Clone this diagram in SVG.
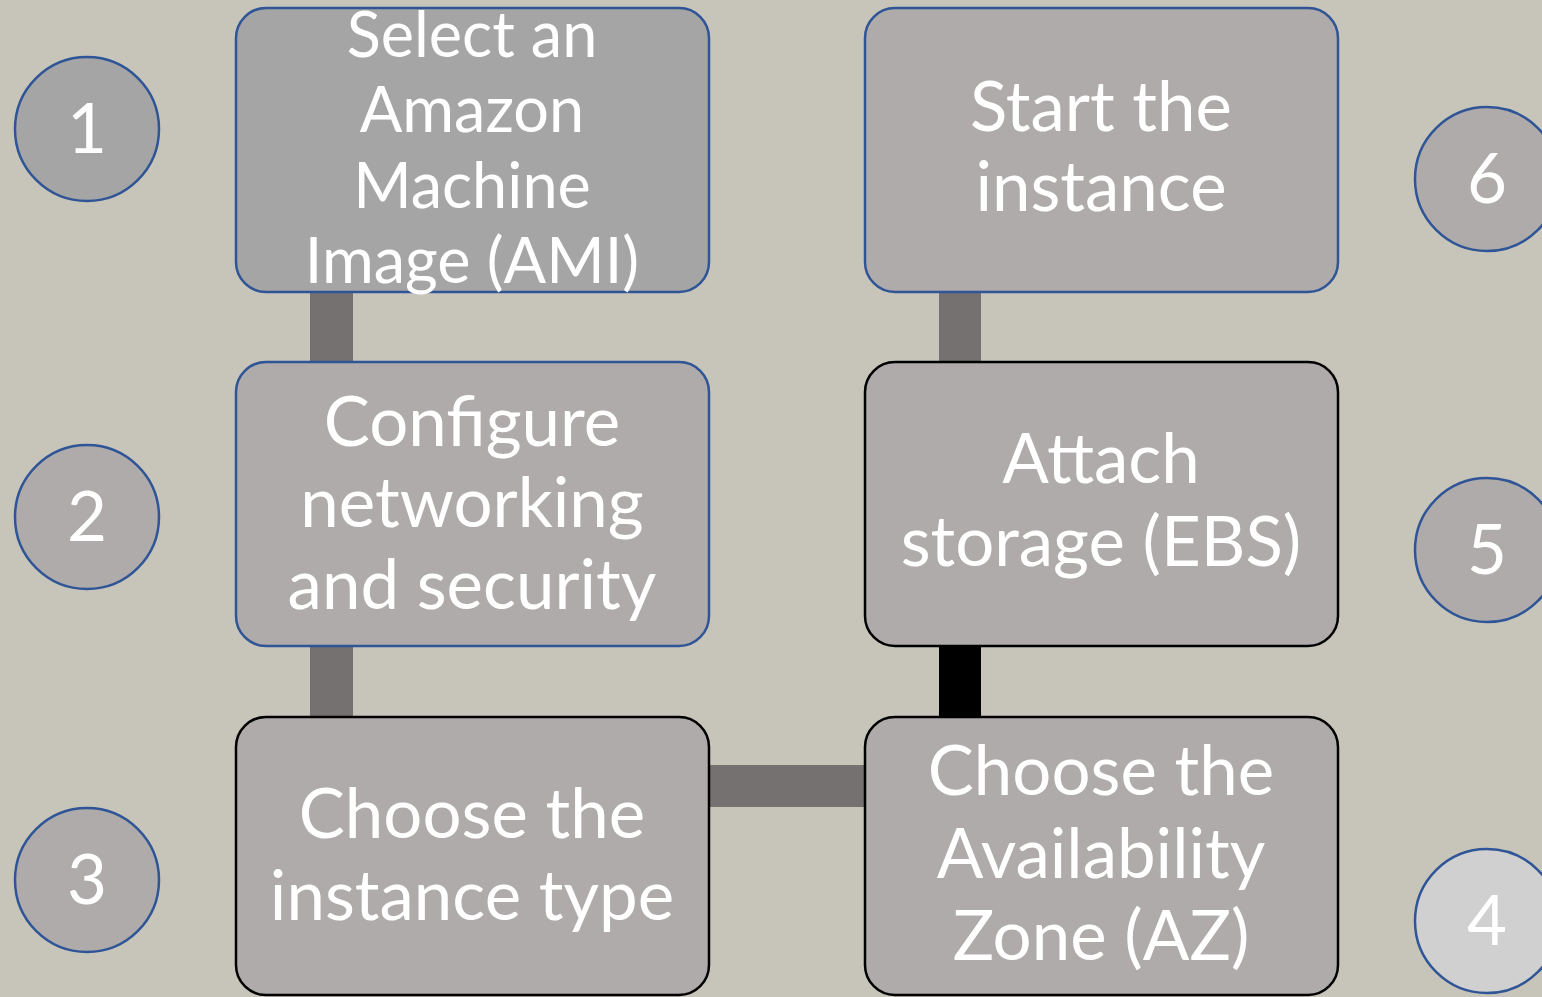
<svg xmlns="http://www.w3.org/2000/svg" width="1542" height="997" viewBox="0 0 1542 997">
<style>
.bg{fill:#C7C5BA}
.box{fill:#AEABAA;stroke-width:2.5}
.blue{stroke:#2F5597}
.black{stroke:#000000}
.first{fill:#A5A5A5}
.conn{fill:#767171}
.connk{fill:#000000}
.t{font-family:Lato,"Open Sans","Liberation Sans",sans-serif;fill:#FFFFFF;text-anchor:middle;font-size:69px}
.ts{font-size:63px}
.num{fill:#AEABAA;stroke:#2F5597;stroke-width:2.5}
</style>
<rect class="bg" x="0" y="0" width="1542" height="997"/>
<g id="connectors">
<rect class="conn" x="310" y="292" width="43" height="70"/>
<rect class="conn" x="310" y="646" width="43" height="71"/>
<rect class="conn" x="709" y="765" width="156" height="42"/>
<rect class="connk" x="939" y="646" width="42" height="71"/>
<rect class="conn" x="939" y="292" width="42" height="70"/>
</g>
<g id="step1">
<rect class="box first blue" x="236" y="8" width="473" height="284" rx="30"/>
<text class="t ts" x="472" y="57">Select an</text>
<text class="t ts" x="472" y="132">Amazon</text>
<text class="t ts" x="472" y="208">Machine</text>
<text class="t ts" x="472" y="283">Image (AMI)</text>
</g>
<g id="step2">
<rect class="box blue" x="236" y="362" width="473" height="284" rx="30"/>
<text class="t" x="472" y="446">Configure</text>
<text class="t" x="472" y="527">networking</text>
<text class="t" x="472" y="609">and security</text>
</g>
<g id="step3">
<rect class="box black" x="236" y="717" width="473" height="278" rx="30"/>
<text class="t" x="472" y="838">Choose the</text>
<text class="t" x="472" y="920">instance type</text>
</g>
<g id="step4">
<rect class="box black" x="865" y="717" width="473" height="278" rx="30"/>
<text class="t" x="1101" y="795">Choose the</text>
<text class="t" x="1101" y="878">Availability</text>
<text class="t" x="1101" y="960">Zone (AZ)</text>
</g>
<g id="step5">
<rect class="box black" x="865" y="362" width="473" height="284" rx="30"/>
<text class="t" x="1101" y="483">Attach</text>
<text class="t" x="1101" y="566">storage (EBS)</text>
</g>
<g id="step6">
<rect class="box blue" x="865" y="8" width="473" height="284" rx="30"/>
<text class="t" x="1101" y="131">Start the</text>
<text class="t" x="1101" y="211">instance</text>
</g>
<g id="num1">
<circle class="num" cx="87" cy="129" r="72" style="fill:#A5A5A5"/>
<text class="t" x="87" y="153">1</text>
</g>
<g id="num2">
<circle class="num" cx="87" cy="517" r="72"/>
<text class="t" x="87" y="541">2</text>
</g>
<g id="num3">
<circle class="num" cx="87" cy="880" r="72"/>
<text class="t" x="87" y="904">3</text>
</g>
<g id="num6">
<circle class="num" cx="1487" cy="179" r="72"/>
<text class="t" x="1487" y="203">6</text>
</g>
<g id="num5">
<circle class="num" cx="1487" cy="550" r="72"/>
<text class="t" x="1487" y="574">5</text>
</g>
<g id="num4">
<circle class="num" cx="1487" cy="921" r="72" style="fill:#D1D0D1"/>
<text class="t" x="1487" y="945">4</text>
</g>
</svg>
